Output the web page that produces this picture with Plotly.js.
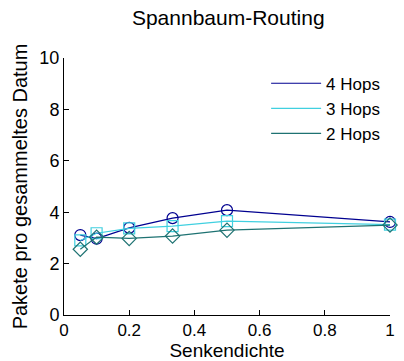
<!DOCTYPE html>
<html>
<head>
<meta charset="utf-8">
<script src="https://cdn.plot.ly/plotly-3.0.1.min.js"></script>
<style>html,body{margin:0;padding:0;background:#fff;}#chart{width:404px;height:361px;}</style>
</head>
<body>
<div id="chart"></div>
<script>
const density = [0.05, 0.1, 0.2, 0.333, 0.5, 1.0];
const hops4 = [3.11, 2.97, 3.39, 3.77, 4.08, 3.62];
const hops3 = [2.90, 3.18, 3.37, 3.46, 3.65, 3.52];
const hops2 = [2.56, 3.03, 2.98, 3.07, 3.30, 3.50];
const seriesNames = ['4 Hops', '3 Hops', '2 Hops'];
const xTicks = [0, 0.2, 0.4, 0.6, 0.8, 1];
const yTicks = [0, 2, 4, 6, 8, 10];

const colors = ['#000090', '#40d0e0', '#1e7272'];
const symbols = ['circle-open', 'square-open', 'diamond-open'];
const ys = [hops4, hops3, hops2];

const traces = [];
ys.forEach((y, i) => {
  traces.push({
    x: density, y: y, mode: 'lines+markers', showlegend: false, cliponaxis: false,
    line: {color: colors[i], width: 1.2},
    marker: {symbol: symbols[i], size: 11, color: colors[i], line: {width: 1.2, color: colors[i]}}
  });
});
ys.forEach((y, i) => {
  traces.push({
    x: [null], y: [null], mode: 'lines', name: seriesNames[i],
    line: {color: colors[i], width: 1.2}
  });
});

const layout = {
  width: 404, height: 361,
  margin: {l: 64, r: 14, t: 58, b: 46},
  paper_bgcolor: '#fff', plot_bgcolor: '#fff',
  font: {family: 'Liberation Sans, Arial, sans-serif', size: 18, color: '#000'},
  title: {text: 'Spannbaum-Routing', font: {size: 21}, x: 0.565, xanchor: 'center', y: 0.95, yanchor: 'middle'},
  xaxis: {
    range: [0, 1], tickvals: xTicks, ticktext: xTicks.map(String),
    ticks: 'inside', ticklen: 5, tickcolor: '#000', showline: true, linecolor: '#000', linewidth: 1,
    showgrid: false, zeroline: false, mirror: false, tickfont: {size: 17},
    title: {text: 'Senkendichte', standoff: 3, font: {size: 19}}
  },
  yaxis: {
    range: [0, 10], tickvals: yTicks, ticktext: yTicks.map(String),
    ticks: 'inside', ticklen: 5, tickcolor: '#000', showline: true, linecolor: '#000', linewidth: 1,
    showgrid: false, zeroline: false, mirror: false, tickfont: {size: 18},
    title: {text: 'Pakete pro gesammeltes Datum', standoff: 6, font: {size: 20}}
  },
  legend: {x: 0.62, y: 0.97, xanchor: 'left', yanchor: 'top', bgcolor: 'rgba(0,0,0,0)', borderwidth: 0,
           font: {size: 17}, tracegroupgap: 0, itemwidth: 50},
  showlegend: true
};

Plotly.newPlot('chart', traces, layout, {displayModeBar: false, staticPlot: true});
</script>
</body>
</html>
